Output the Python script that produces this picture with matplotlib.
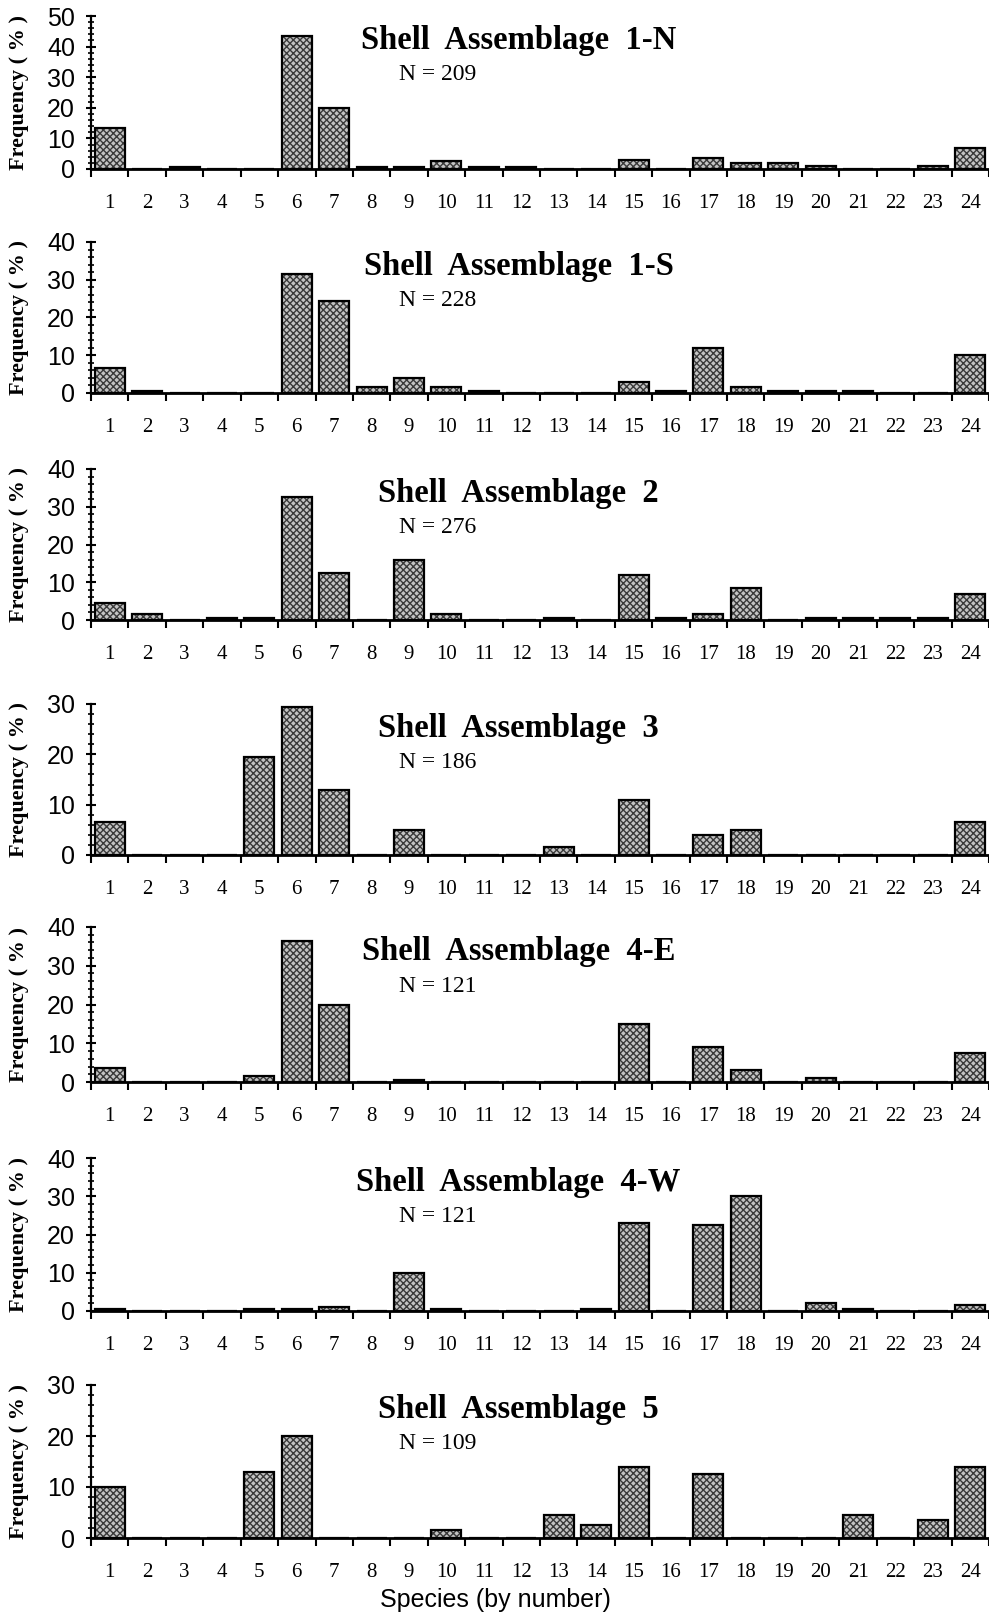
import matplotlib
matplotlib.use("Agg")
from matplotlib import pyplot as plt
from matplotlib.ticker import MultipleLocator

species = list(range(1, 25))

titles = ["Shell  Assemblage  1-N", "Shell  Assemblage  1-S", "Shell  Assemblage  2",
          "Shell  Assemblage  3", "Shell  Assemblage  4-E", "Shell  Assemblage  4-W",
          "Shell  Assemblage  5"]
n_labels = ["N = 209", "N = 228", "N = 276", "N = 186", "N = 121", "N = 121", "N = 109"]
ymax = [50, 40, 40, 30, 40, 40, 30]

freq_1n = [13.5, 0, 0.5, 0, 0, 43.5, 20, 0.5, 0.5, 2.5, 0.5, 0.5,
           0, 0, 3, 0, 3.5, 2, 2, 1, 0, 0, 1, 7]
freq_1s = [6.5, 0.5, 0, 0, 0, 31.5, 24.5, 1.5, 4, 1.5, 0.5, 0,
           0, 0, 3, 0.5, 12, 1.5, 0.5, 0.5, 0.5, 0, 0, 10]
freq_2 = [4.5, 1.5, 0, 0.5, 0.5, 32.5, 12.5, 0, 16, 1.5, 0, 0,
          0.5, 0, 12, 0.5, 1.5, 8.5, 0, 0.5, 0.5, 0.5, 0.5, 7]
freq_3 = [6.5, 0, 0, 0, 19.5, 29.5, 13, 0, 5, 0, 0, 0,
          1.5, 0, 11, 0, 4, 5, 0, 0, 0, 0, 0, 6.5]
freq_4e = [3.5, 0, 0, 0, 1.5, 36.5, 20, 0, 0.5, 0, 0, 0,
           0, 0, 15, 0, 9, 3, 0, 1, 0, 0, 0, 7.5]
freq_4w = [0.5, 0, 0, 0, 0.5, 0.5, 1, 0, 10, 0.5, 0, 0,
           0, 0.5, 23, 0, 22.5, 30, 0, 2, 0.5, 0, 0, 1.5]
freq_5 = [10, 0, 0, 0, 13, 20, 0, 0, 0, 1.5, 0, 0,
          4.5, 2.5, 14, 0, 12.5, 0, 0, 0, 4.5, 0, 3.5, 14]

all_freq = [freq_1n, freq_1s, freq_2, freq_3, freq_4e, freq_4w, freq_5]

# panel extents in pixels (top, bottom) of the 989x1616 figure
panel_px = [(16, 169), (242, 393), (469, 620), (704, 855),
            (927, 1082), (1158, 1311), (1385, 1538)]

W, H = 989, 1616
fig = plt.figure(figsize=(W / 100, H / 100), dpi=100)

serif = "Liberation Serif"
sans = "Liberation Sans"

for i in range(7):
    top, bot = panel_px[i]
    ax = fig.add_axes([91 / W, 1 - bot / H, (W - 91) / W, (bot - top) / H])

    # stippled fill, then black outline
    ax.bar(species, all_freq[i], width=0.8, facecolor="#c4c4c4",
           edgecolor="#3a3a3a", hatch="xxxxx", linewidth=0, zorder=2)
    ax.bar(species, all_freq[i], width=0.8, fill=False,
           edgecolor="black", linewidth=1.6, zorder=3)

    ax.set_xlim(0.5, 24.5)
    ax.set_ylim(0, ymax[i])
    for s in ["top", "right"]:
        ax.spines[s].set_visible(False)
    ax.spines["left"].set_linewidth(1.6)
    ax.spines["bottom"].set_linewidth(2)

    ax.yaxis.set_major_locator(MultipleLocator(10))
    ax.yaxis.set_minor_locator(MultipleLocator(2))
    ax.tick_params(axis="y", which="major", direction="inout", length=7,
                   width=1.5, labelsize=18, pad=8)
    ax.tick_params(axis="y", which="minor", direction="inout", length=4, width=1.2)
    for lab in ax.get_yticklabels():
        lab.set_family(sans)

    # ticks at category borders, labels in the middle
    ax.set_xticks([k + 0.5 for k in range(0, 25)])
    ax.set_xticklabels([])
    ax.set_xticks(species, minor=True)
    ax.set_xticklabels([str(s) for s in species], minor=True,
                       family=serif, fontsize=15)
    ax.tick_params(axis="x", which="major", direction="out", length=6, width=1.5)
    ax.tick_params(axis="x", which="minor", length=0, pad=18)

    ax.set_ylabel("Frequency ( % )", family=serif, fontweight="bold",
                  fontsize=16)
    ax.yaxis.set_label_coords(-0.069, 0.5)

    ax.text(0.476, 0.84, titles[i], transform=ax.transAxes, ha="center",
            va="center", family=serif, fontweight="bold", fontsize=23.5)
    ax.text(0.386, 0.615, n_labels[i], transform=ax.transAxes, ha="center",
            va="center", family=serif, fontsize=17)

    if i == 6:
        ax.set_xlabel("Species (by number)", family=sans, fontsize=18, labelpad=2)
        ax.xaxis.set_label_coords(0.45, -0.33)

fig.savefig("out.png", dpi=100)
